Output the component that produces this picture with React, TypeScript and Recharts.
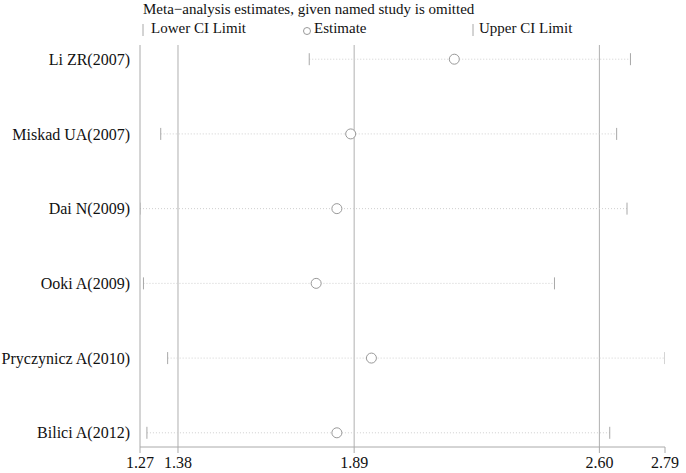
import React from "react";
import { ScatterChart, Scatter, XAxis, YAxis, ReferenceLine } from "recharts";

const studies = [
  "Li ZR(2007)",
  "Miskad UA(2007)",
  "Dai N(2009)",
  "Ooki A(2009)",
  "Pryczynicz A(2010)",
  "Bilici A(2012)",
];
const estimates = [2.18, 1.88, 1.84, 1.78, 1.94, 1.84];
const lowerCI = [1.76, 1.33, 1.27, 1.28, 1.35, 1.29];
const upperCI = [2.69, 2.65, 2.68, 2.47, 2.79, 2.63];
const xTicks = [1.27, 1.38, 1.89, 2.6, 2.79];
const refLines = [1.38, 1.89, 2.6];

const font = "'Liberation Serif', 'Times New Roman', serif";

const rows = studies.map((name, i) => ({
  name,
  y: i + 1,
  est: estimates[i],
  lo: lowerCI[i],
  hi: upperCI[i],
}));
const estData = rows.map((r) => ({ x: r.est, y: r.y }));
const loData = rows.map((r) => ({ x: r.lo, y: r.y }));
const hiData = rows.map((r) => ({ x: r.hi, y: r.y }));

const CiTick = (props: any) => (
  <line x1={props.cx} y1={props.cy - 6} x2={props.cx} y2={props.cy + 6} stroke="#a8a8a8" strokeWidth={1} />
);
const EstMark = (props: any) => (
  <circle cx={props.cx} cy={props.cy} r={5} fill="#fff" stroke="#999" strokeWidth={1} />
);

export default function App() {
  return (
    <div style={{ position: "relative", width: 686, height: 473, background: "#fff", fontFamily: font }}>
      <style>{`body{margin:0}`}</style>
      <div style={{ position: "absolute", left: 143, top: 1, fontSize: 15, lineHeight: "17px", color: "#111", whiteSpace: "nowrap" }}>
        Meta−analysis estimates, given named study is omitted
      </div>
      <div style={{ position: "absolute", left: 0, top: 20, width: 686, height: 20, fontSize: 15, lineHeight: "17px", color: "#111" }}>
        <svg style={{ position: "absolute", left: 140, top: 3 }} width={6} height={14}>
          <line x1={3} y1={1} x2={3} y2={13} stroke="#a8a8a8" />
        </svg>
        <span style={{ position: "absolute", left: 151, whiteSpace: "nowrap" }}>Lower CI Limit</span>
        <svg style={{ position: "absolute", left: 302, top: 4 }} width={10} height={14}>
          <circle cx={5} cy={7} r={3.5} fill="#fff" stroke="#999" />
        </svg>
        <span style={{ position: "absolute", left: 314, whiteSpace: "nowrap" }}>Estimate</span>
        <svg style={{ position: "absolute", left: 470, top: 3 }} width={6} height={14}>
          <line x1={3} y1={1} x2={3} y2={13} stroke="#a8a8a8" />
        </svg>
        <span style={{ position: "absolute", left: 479, whiteSpace: "nowrap" }}>Upper CI Limit</span>
      </div>
      <ScatterChart width={686} height={473} margin={{ top: 45, right: 21, bottom: 0, left: 0 }}>
        <XAxis
          type="number"
          dataKey="x"
          domain={[1.27, 2.79]}
          allowDataOverflow
          ticks={xTicks}
          tickFormatter={(v: number) => v.toFixed(2)}
          height={26}
          tickSize={6}
          tickMargin={4}
          axisLine={{ stroke: "#aaa" }}
          tickLine={{ stroke: "#aaa" }}
          tick={{ fill: "#111", fontSize: 16, fontFamily: font }}
          interval={0}
        />
        <YAxis
          type="number"
          dataKey="y"
          domain={[0.81, 6.19]}
          allowDataOverflow
          reversed
          ticks={[1, 2, 3, 4, 5, 6]}
          tickFormatter={(v: number) => studies[v - 1] ?? ""}
          width={140}
          tickSize={6}
          tickMargin={4}
          axisLine={{ stroke: "#aaa" }}
          tickLine={false}
          tick={{ fill: "#111", fontSize: 16, fontFamily: font }}
          interval={0}
        />
        {refLines.map((v) => (
          <ReferenceLine key={v} x={v} stroke="#b0b0b0" strokeWidth={1} />
        ))}
        {rows.map((r) => (
          <ReferenceLine
            key={r.name}
            segment={[
              { x: r.lo, y: r.y },
              { x: r.hi, y: r.y },
            ]}
            stroke="#cfcfcf"
            strokeDasharray="1 2"
            ifOverflow="visible"
          />
        ))}
        <Scatter data={loData} shape={CiTick} isAnimationActive={false} />
        <Scatter data={hiData} shape={CiTick} isAnimationActive={false} />
        <Scatter data={estData} shape={EstMark} isAnimationActive={false} />
      </ScatterChart>
    </div>
  );
}
